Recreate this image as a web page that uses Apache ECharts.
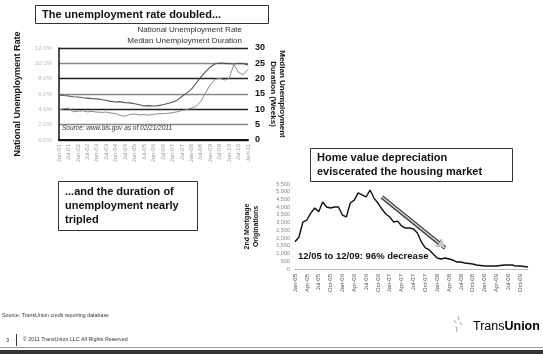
<!DOCTYPE html>
<html><head><meta charset="utf-8">
<script src="https://cdn.jsdelivr.net/npm/echarts@6/dist/echarts.min.js"></script>
<style>html,body{margin:0;padding:0;background:#fff}#c{width:543px;height:354px}</style>
</head><body><div id="c"></div>
<script>
// ---- Left chart: unemployment (quarterly) ----
const unempCategories = ['Jan-01','Apr-01','Jul-01','Oct-01','Jan-02','Apr-02','Jul-02','Oct-02','Jan-03','Apr-03','Jul-03','Oct-03','Jan-04','Apr-04','Jul-04','Oct-04','Jan-05','Apr-05','Jul-05','Oct-05','Jan-06','Apr-06','Jul-06','Oct-06','Jan-07','Apr-07','Jul-07','Oct-07','Jan-08','Apr-08','Jul-08','Oct-08','Jan-09','Apr-09','Jul-09','Oct-09','Jan-10','Apr-10','Jul-10','Oct-10','Jan-11'];
const unemploymentRate = [5.88,5.80,5.74,5.64,5.60,5.52,5.46,5.40,5.36,5.28,5.16,5.04,4.96,5.00,4.88,4.84,4.72,4.60,4.44,4.48,4.44,4.48,4.60,4.76,4.92,5.20,5.68,6.12,6.60,7.40,8.20,8.88,9.52,9.92,10.04,10.00,9.96,9.92,10.00,9.96,9.80];
const medianDuration = [9.8,10.2,10.4,9.2,9.4,9.5,9.2,9.3,9.1,9.0,9.1,8.8,8.6,8.0,7.8,8.3,8.5,8.2,8.3,8.1,8.4,8.5,8.6,8.7,8.9,9.2,9.6,9.9,10.4,11.0,12.5,15.3,18.0,19.8,20.1,19.6,20.0,24.6,22.0,21.3,23.0];
const rateAxis = {min:0, max:12, interval:2};
const durationAxis = {min:0, max:30, interval:5};

// ---- Right chart: 2nd mortgage originations (monthly) ----
const mortCategories = ['Jan-05','Feb-05','Mar-05','Apr-05','May-05','Jun-05','Jul-05','Aug-05','Sep-05','Oct-05','Nov-05','Dec-05',
'Jan-06','Feb-06','Mar-06','Apr-06','May-06','Jun-06','Jul-06','Aug-06','Sep-06','Oct-06','Nov-06','Dec-06',
'Jan-07','Feb-07','Mar-07','Apr-07','May-07','Jun-07','Jul-07','Aug-07','Sep-07','Oct-07','Nov-07','Dec-07',
'Jan-08','Feb-08','Mar-08','Apr-08','May-08','Jun-08','Jul-08','Aug-08','Sep-08','Oct-08','Nov-08','Dec-08',
'Jan-09','Feb-09','Mar-09','Apr-09','May-09','Jun-09','Jul-09','Aug-09','Sep-09','Oct-09','Nov-09','Dec-09'];
const mortOriginations = [1766,2070,3040,3170,3620,3950,3700,4335,4010,3950,4010,4010,
3490,3365,4270,4460,4920,4790,4660,5110,4590,4270,3880,3560,
3360,3040,3100,2780,2650,2650,2590,2330,1750,1360,1230,970,
710,650,710,650,580,450,450,390,360,320,260,230,
190,190,190,190,230,260,260,260,190,190,160,130];
const mortAxis = {min:0, max:5500, interval:500};
const arrowFrom = ['Nov-06', 4660];
const arrowTo = ['Mar-08', 1360];

const F = 'Liberation Sans, Arial, sans-serif';
const chart = echarts.init(document.getElementById('c'), null, {renderer:'canvas'});
chart.setOption({
  backgroundColor:'#ffffff',
  animation:false,
  textStyle:{fontFamily:F},
  grid:[
    {left:59, top:48, width:189, height:92},
    {left:295, top:184, width:233, height:85}
  ],
  xAxis:[
    {gridIndex:0, type:'category', data:unempCategories, boundaryGap:false,
     axisLine:{show:true, lineStyle:{color:'#111', width:2}}, axisTick:{show:false},
     axisLabel:{interval:1, rotate:90, fontSize:6, color:'#999', margin:4}},
    {gridIndex:1, type:'category', data:mortCategories, boundaryGap:false,
     axisLine:{show:true, lineStyle:{color:'#aaa', width:1, type:'dotted'}}, axisTick:{show:false},
     axisLabel:{interval:2, rotate:90, fontSize:6, color:'#555', margin:5}}
  ],
  yAxis:[
    {gridIndex:0, type:'value', min:rateAxis.min, max:rateAxis.max, interval:rateAxis.interval,
     name:'National Unemployment Rate', nameLocation:'middle', nameGap:37,
     nameTextStyle:{fontSize:9, fontWeight:'bold', color:'#111'},
     axisLine:{show:true, lineStyle:{color:'#111', width:1.5}}, axisTick:{show:false},
     axisLabel:{fontSize:6, color:'#bbb', formatter:v=>v.toFixed(1)+'%', margin:7},
     splitLine:{show:false}},
    {gridIndex:0, type:'value', position:'right', min:durationAxis.min, max:durationAxis.max, interval:durationAxis.interval,
     name:'Median Unemployment\nDuration (Weeks)', nameLocation:'middle', nameGap:17, nameRotate:-90,
     nameTextStyle:{fontSize:8, fontWeight:'bold', color:'#111', lineHeight:9},
     axisLine:{show:false}, axisTick:{show:false},
     axisLabel:{fontSize:9, fontWeight:'bold', color:'#111', margin:7},
     splitLine:{show:true, lineStyle:{color:['#222','#888'], width:1.4}}},
    {gridIndex:1, type:'value', min:mortAxis.min, max:mortAxis.max, interval:mortAxis.interval,
     name:'2nd Mortgage\nOriginations', nameLocation:'middle', nameGap:34,
     nameTextStyle:{fontSize:7, fontWeight:'bold', color:'#111', lineHeight:9},
     axisLine:{show:false}, axisTick:{show:false},
     axisLabel:{fontSize:5.5, color:'#888', formatter:v=>v.toLocaleString('en-US'), margin:5},
     splitLine:{show:false}}
  ],
  series:[
    {type:'line', xAxisIndex:0, yAxisIndex:0, data:unemploymentRate, symbol:'none',
     lineStyle:{color:'#555', width:1.1}},
    {type:'line', xAxisIndex:0, yAxisIndex:1, data:medianDuration, symbol:'none',
     lineStyle:{color:'#8a8a8a', width:1}},
    {type:'line', xAxisIndex:1, yAxisIndex:2, data:mortOriginations, symbol:'none',
     lineStyle:{color:'#111', width:1.4},
     markLine:{silent:true, symbol:['none','arrow'], symbolSize:[7,9], label:{show:false},
       data:[
         [{coord:arrowFrom, lineStyle:{color:'#333', width:4, type:'solid'}}, {coord:arrowTo}],
         [{coord:arrowFrom, lineStyle:{color:'#ccc', width:1.6, type:'solid'}, symbolSize:4}, {coord:arrowTo}]
       ]}}
  ],
  graphic:[
    {type:'rect', shape:{x:35.5, y:5.5, width:233, height:18}, style:{fill:'#fff', stroke:'#333', lineWidth:1}},
    {type:'text', x:42, y:14.5, style:{text:'The unemployment rate doubled...', font:'bold 11px '+F, fill:'#111', verticalAlign:'middle'}},
    {type:'text', x:242, y:30, style:{text:'National Unemployment Rate', font:'8px '+F, fill:'#333', align:'right', verticalAlign:'middle'}},
    {type:'text', x:242, y:41, style:{text:'Median Unemployment Duration', font:'8px '+F, fill:'#333', align:'right', verticalAlign:'middle'}},
    {type:'text', x:62, y:128, style:{text:'Source: www.bls.gov as of 02/21/2011', font:'italic 6.5px '+F, fill:'#333', verticalAlign:'middle'}},
    {type:'rect', shape:{x:58.5, y:181.5, width:139, height:49}, style:{fill:'#fff', stroke:'#333', lineWidth:1}},
    {type:'text', x:65, y:185, style:{text:'...and the duration of\nunemployment nearly\ntripled', font:'bold 11px '+F, lineHeight:14, fill:'#111'}},
    {type:'rect', shape:{x:310.5, y:148.5, width:202, height:33}, style:{fill:'#fff', stroke:'#333', lineWidth:1}},
    {type:'text', x:317, y:151, style:{text:'Home value depreciation\neviscerated the housing market', font:'bold 11px '+F, lineHeight:14, fill:'#111'}},
    {type:'text', x:298, y:256, style:{text:'12/05 to 12/09: 96% decrease', font:'bold 9.5px '+F, fill:'#111', verticalAlign:'middle'}},
    {type:'text', x:2, y:316, style:{text:'Source: TransUnion credit reporting database', font:'5.3px '+F, fill:'#333', verticalAlign:'middle'}},
    {type:'text', x:6, y:340, style:{text:'3', font:'5.5px '+F, fill:'#333', verticalAlign:'middle'}},
    {type:'line', shape:{x1:16.5, y1:334, x2:16.5, y2:346}, style:{stroke:'#333', lineWidth:1}},
    {type:'text', x:23, y:340, style:{text:'© 2011 TransUnion LLC All Rights Reserved', font:'5.3px '+F, fill:'#333', verticalAlign:'middle'}},
    {type:'text', x:473, y:327, style:{text:'{a|Trans}{b|Union}', verticalAlign:'middle',
      rich:{a:{fontSize:12.5, color:'#9a9a9a', fontFamily:F}, b:{fontSize:12.5, color:'#777', fontFamily:F, fontWeight:'bold'}}}},
    {type:'line', shape:{x1:458, y1:316, x2:459, y2:320}, style:{stroke:'#aaa', lineWidth:1}},
    {type:'line', shape:{x1:454, y1:320, x2:456, y2:323}, style:{stroke:'#aaa', lineWidth:1}},
    {type:'line', shape:{x1:460, y1:322, x2:462, y2:325}, style:{stroke:'#aaa', lineWidth:1}},
    {type:'line', shape:{x1:456, y1:326, x2:457, y2:332}, style:{stroke:'#aaa', lineWidth:1}},
    {type:'line', shape:{x1:0, y1:347.5, x2:543, y2:347.5}, style:{stroke:'#999', lineWidth:1}},
    {type:'rect', shape:{x:0, y:350, width:543, height:4}, style:{fill:'#333'}}
  ]
});
</script></body></html>
